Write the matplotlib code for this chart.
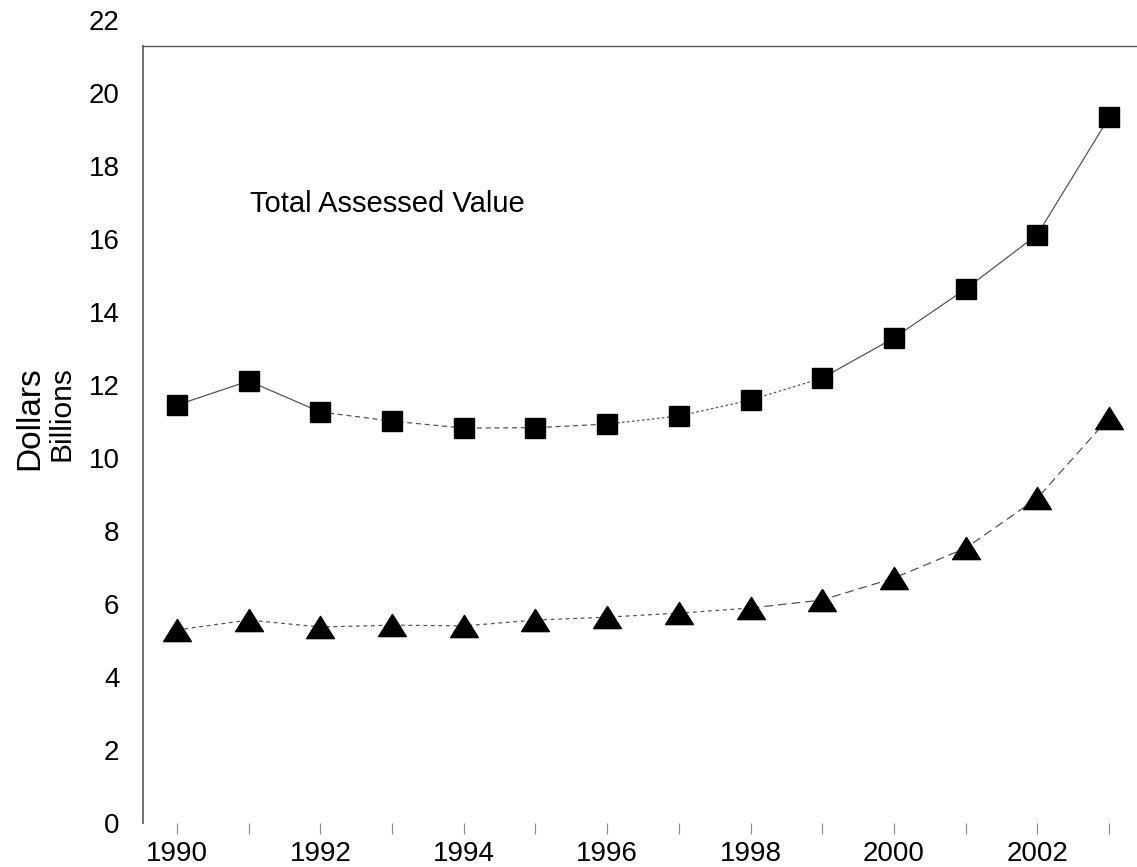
import matplotlib
matplotlib.use("Agg")
import matplotlib.pyplot as plt
from matplotlib.path import Path

years = [1990, 1991, 1992, 1993, 1994, 1995, 1996, 1997, 1998, 1999, 2000, 2001, 2002, 2003]
total_assessed = [11.45, 12.11, 11.26, 11.01, 10.82, 10.83, 10.93, 11.15, 11.59, 12.19, 13.29, 14.63, 16.12, 19.33]
second_series = [5.29, 5.56, 5.37, 5.42, 5.40, 5.56, 5.64, 5.75, 5.89, 6.11, 6.71, 7.53, 8.90, 11.10]
ytick_values = list(range(0, 23, 2))
xtick_labels = ["1990", "", "1992", "", "1994", "", "1996", "", "1998", "", "2000", "", "2002", ""]

plt.rcParams['font.family'] = ['Liberation Sans', 'DejaVu Sans']

W, H = 1137, 867
fig = plt.figure(figsize=(W / 100, H / 100), dpi=100)
ax = fig.add_axes([143 / W, (H - 823) / H, 1 - 143 / W, (823 - 20) / H])
ax.set_xlim(1989.526, 2003.39)
ax.set_ylim(0, 22)

top_val = 21.29

# square series, drawn in segments with differing line styles
sq_styles = [(0, 2, '-'), (2, 6, (0, (4, 3))), (6, 9, (0, (2, 2))), (9, 13, '-')]
for a, b, ls in sq_styles:
    ax.plot(years[a:b + 1], total_assessed[a:b + 1], color='#555555', lw=0.9, ls=ls, zorder=2)
ax.plot(years, total_assessed, ls='none', marker='s', ms=14, mfc='black', mec='black', zorder=3)

tri = Path([(-1, -0.8), (1, -0.8), (0, 0.8), (-1, -0.8)], [1, 2, 2, 79])
tr_styles = [(0, 8, (0, (3, 3))), (8, 13, (0, (7, 4)))]
for a, b, ls in tr_styles:
    ax.plot(years[a:b + 1], second_series[a:b + 1], color='#555555', lw=0.9, ls=ls, zorder=2)
ax.plot(years, second_series, ls='none', marker=tri, ms=20, mfc='black', mec='black', zorder=3)

ax.text(1991.02, 16.74, "Total Assessed Value", fontsize=21, va='baseline', ha='left')

# spines
for s in ['right', 'bottom']:
    ax.spines[s].set_visible(False)
ax.spines['top'].set_position(('data', top_val))
ax.spines['top'].set_color('#555555')
ax.spines['top'].set_linewidth(1.0)
ax.spines['left'].set_bounds(0, top_val)
ax.spines['left'].set_color('#666666')
ax.spines['left'].set_linewidth(1.3)

ax.set_yticks(ytick_values)
ax.set_yticklabels([str(v) for v in ytick_values])
ax.tick_params(axis='y', length=0, pad=17, labelsize=20)
ax.set_xticks(years)
ax.set_xticklabels(xtick_labels)
ax.tick_params(axis='x', direction='out', length=8, width=0.8, color='#888888', pad=5, labelsize=20)

fig.text(30 / W, (H - 366) / H, "Dollars", rotation=90, fontsize=24, ha='center', va='top')
fig.text(62 / W, (H - 366) / H, "Billions", rotation=90, fontsize=21.5, ha='center', va='top')

fig.savefig("out.png", dpi=100)
